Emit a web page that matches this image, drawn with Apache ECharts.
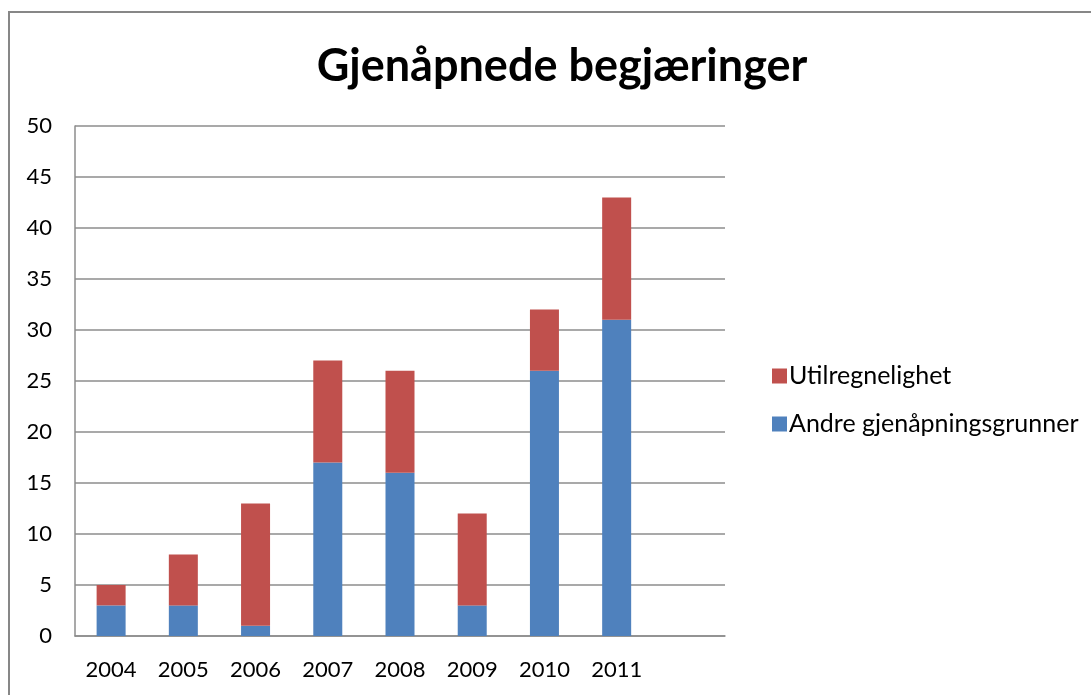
<!DOCTYPE html>
<html>
<head>
<meta charset="utf-8">
<script src="https://cdn.jsdelivr.net/npm/echarts@6/dist/echarts.min.js"></script>
<style>
  html, body { margin: 0; padding: 0; background: #ffffff; }
  #chart { width: 1091px; height: 695px; }
</style>
</head>
<body>
<div id="chart"></div>
<script>
// Chart data
const years = ["2004", "2005", "2006", "2007", "2008", "2009", "2010", "2011", ""];
const andreGrunner = [3, 3, 1, 17, 16, 3, 26, 31];
const utilregnelighet = [2, 5, 12, 10, 10, 9, 6, 12];
const yTicks = { min: 0, max: 50, interval: 5 };

const font = "Lato, 'Open Sans', sans-serif";
const gridGray = "#8c8c8c";

let chart = echarts.init(document.getElementById("chart"));
let option = {
  animation: false,
  backgroundColor: "#ffffff",
  title: {
    text: "Gjenåpnede begjæringer",
    left: 557,
    top: 39,
    textAlign: "center",
    textStyle: {
      fontFamily: font,
      fontSize: 45,
      fontWeight: "bold",
      color: "#000000"
    }
  },
  graphic: [
    {
      type: "rect",
      shape: { x: 9, y: 12, width: 1100, height: 700 },
      style: { fill: "none", stroke: "#878787", lineWidth: 2 },
      silent: true,
      z: -1
    }
  ],
  legend: {
    orient: "vertical",
    left: 767,
    top: 358,
    itemWidth: 15,
    itemHeight: 15,
    itemGap: 22,
    icon: "rect",
    textStyle: { fontFamily: font, fontSize: 25, lineHeight: 26, color: "#000000", padding: [0, 0, 0, -3] },
    data: ["Utilregnelighet", "Andre gjenåpningsgrunner"]
  },
  grid: {
    left: 75,
    right: 366,
    top: 126,
    bottom: 59,
    containLabel: false
  },
  xAxis: {
    type: "category",
    data: years,
    axisLine: { lineStyle: { color: gridGray, width: 1.5 } },
    axisTick: { show: false },
    axisLabel: {
      fontFamily: font,
      fontSize: 22,
      color: "#000000",
      margin: 23
    }
  },
  yAxis: {
    type: "value",
    min: yTicks.min,
    max: yTicks.max,
    interval: yTicks.interval,
    axisLine: { show: true, lineStyle: { color: gridGray, width: 1.5 } },
    axisTick: { show: false },
    splitLine: { lineStyle: { color: gridGray, width: 1.5 } },
    axisLabel: {
      fontFamily: font,
      fontSize: 22,
      color: "#000000",
      margin: 23
    }
  },
  series: [
    {
      name: "Andre gjenåpningsgrunner",
      type: "bar",
      stack: "total",
      data: andreGrunner,
      barWidth: 29,
      itemStyle: { color: "#4F81BD" }
    },
    {
      name: "Utilregnelighet",
      type: "bar",
      stack: "total",
      data: utilregnelighet,
      barWidth: 29,
      itemStyle: { color: "#C0504D" }
    }
  ]
};
chart.setOption(option);
</script>
</body>
</html>
